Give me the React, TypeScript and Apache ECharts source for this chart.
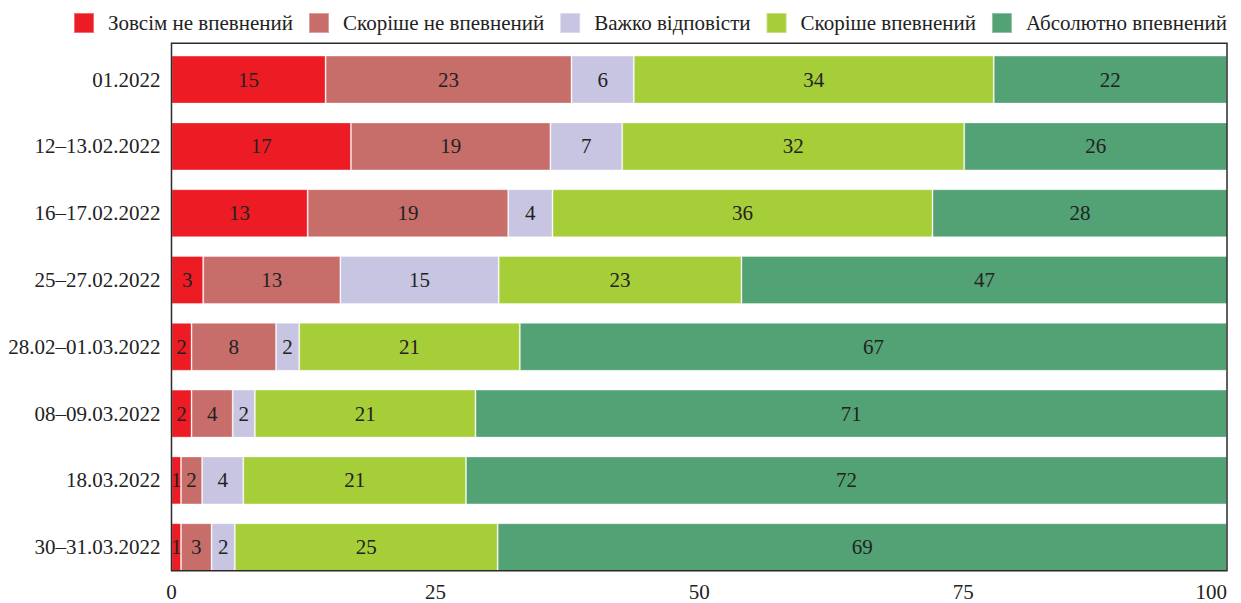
import React, { useEffect, useRef } from "react";
import * as echarts from "echarts";

const categories = [
  "01.2022",
  "12–13.02.2022",
  "16–17.02.2022",
  "25–27.02.2022",
  "28.02–01.03.2022",
  "08–09.03.2022",
  "18.03.2022",
  "30–31.03.2022",
];

const seriesNames = [
  "Зовсім не впевнений",
  "Скоріше не впевнений",
  "Важко відповісти",
  "Скоріше впевнений",
  "Абсолютно впевнений",
];

const notSure = [14.6, 17.0, 12.9, 3.0, 1.9, 1.9, 0.9, 0.9];
const ratherNotSure = [23.3, 18.9, 19.0, 13.0, 8.0, 3.9, 2.0, 2.9];
const hardToSay = [5.9, 6.8, 4.2, 15.0, 2.2, 2.1, 3.9, 2.2];
const ratherSure = [34.1, 32.4, 36.0, 23.0, 20.9, 20.9, 21.1, 24.9];
const absolutelySure = [22.1, 25.6, 28.0, 46.6, 67.0, 71.2, 72.1, 69.1];

const xTicks = [0, 25, 50, 75, 100];

const colors = ["#ED1C24", "#C86E6A", "#C7C5E1", "#A6CE39", "#53A275"];

const FONT = "'Liberation Serif', 'DejaVu Serif', serif";

export default function App() {
  const ref = useRef<HTMLDivElement>(null);

  useEffect(() => {
    if (!ref.current) return;
    const chart = echarts.init(ref.current, null, { renderer: "svg" });
    const values = [notSure, ratherNotSure, hardToSay, ratherSure, absolutelySure];

    const gridLeft = 171.5;
    const gridRight = 14;
    const frameTop = 43.3;
    const frameBottom = 570.7;

    chart.setOption({
      animation: false,
      backgroundColor: "#ffffff",
      textStyle: { fontFamily: FONT },
      legend: {
        top: 7,
        right: 9,
        itemWidth: 20,
        itemHeight: 20,
        itemGap: 15,
        icon: "rect",
        textStyle: {
          fontFamily: FONT,
          fontSize: 21,
          color: "#222",
          padding: [0, 0, 0, 9],
        },
        data: seriesNames,
      },
      grid: {
        left: gridLeft,
        right: gridRight,
        top: 46.2,
        bottom: 22.4,
        containLabel: false,
      },
      xAxis: {
        type: "value",
        min: 0,
        max: 100,
        interval: 25,
        axisLine: { show: false },
        axisTick: { show: false },
        splitLine: { show: false },
        axisLabel: {
          fontFamily: FONT,
          fontSize: 21,
          color: "#222",
          margin: 1,
          alignMaxLabel: "right",
          formatter: (v: number) => (xTicks.includes(v) ? String(v) : ""),
        },
      },
      yAxis: {
        type: "category",
        inverse: true,
        data: categories,
        axisLine: { show: false },
        axisTick: { show: false },
        splitLine: { show: false },
        axisLabel: {
          fontFamily: FONT,
          fontSize: 21,
          color: "#222",
          margin: 11,
        },
      },
      series: seriesNames.map((name, i) => ({
        name,
        type: "bar",
        stack: "total",
        barWidth: 48,
        clip: true,
        data: values[i],
        itemStyle: {
          color: colors[i],
          borderColor: "rgba(255,255,255,0.35)",
          borderWidth: 1,
        },
        label: {
          show: true,
          position: "inside",
          fontFamily: FONT,
          fontSize: 21,
          color: "#222",
          formatter: (p: any) => String(Math.round(p.value)),
        },
      })),
      graphic: [
        {
          type: "rect",
          z: 100,
          silent: true,
          shape: {
            x: gridLeft,
            y: frameTop,
            width: 1241 - gridRight - gridLeft,
            height: frameBottom - frameTop,
          },
          style: { fill: "none", stroke: "#2b2b2b", lineWidth: 1.5 },
        },
      ],
    });

    return () => chart.dispose();
  }, []);

  return (
    <div
      ref={ref}
      style={{ position: "fixed", left: 0, top: 0, width: 1241, height: 603 }}
    />
  );
}
